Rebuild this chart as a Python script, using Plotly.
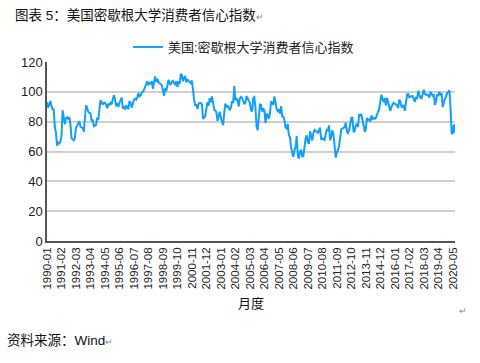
import plotly.graph_objects as go

start_year = 1990
values = [
    93.0, 89.5, 91.3, 93.9, 90.6, 88.3, 88.2, 76.4, 72.8, 63.9, 66.0, 65.5,
    66.8, 70.4, 87.7, 81.8, 78.3, 82.1, 82.9, 82.0, 83.0, 78.3, 69.1, 68.2,
    67.5, 68.8, 76.0, 77.2, 79.2, 80.4, 76.6, 76.1, 75.6, 73.3, 85.3, 91.0,
    89.3, 86.6, 85.9, 85.6, 80.3, 81.5, 77.0, 77.3, 77.9, 82.7, 81.2, 88.2,
    94.3, 93.2, 91.5, 92.6, 92.8, 91.2, 89.0, 91.7, 91.5, 92.7, 91.6, 95.1,
    97.6, 95.1, 90.3, 92.5, 89.8, 92.7, 94.4, 96.2, 88.9, 90.2, 88.2, 91.0,
    89.3, 88.5, 93.7, 92.7, 89.4, 92.4, 94.7, 95.3, 94.7, 96.5, 99.2, 96.9,
    97.4, 99.7, 100.0, 101.4, 103.2, 104.5, 107.1, 104.4, 106.0, 105.6, 107.2, 102.1,
    106.6, 110.4, 106.5, 108.7, 106.5, 105.6, 105.2, 104.4, 100.9, 97.4, 102.7, 100.5,
    103.9, 108.1, 105.7, 104.6, 106.8, 107.3, 106.0, 104.5, 107.2, 103.2, 107.2, 105.4,
    112.0, 111.3, 107.1, 109.2, 110.7, 106.4, 108.3, 107.3, 106.8, 105.8, 107.6, 98.4,
    94.7, 90.6, 91.5, 88.4, 92.0, 92.6, 92.4, 91.5, 81.8, 82.7, 83.9, 88.8,
    93.0, 90.7, 95.7, 93.0, 96.9, 92.4, 88.1, 87.6, 86.1, 80.6, 84.2, 86.7,
    82.4, 79.9, 77.6, 86.0, 92.1, 89.7, 90.9, 89.3, 87.7, 89.6, 93.7, 92.6,
    103.8, 94.4, 95.8, 94.2, 90.2, 95.6, 96.7, 95.9, 94.2, 91.7, 92.8, 97.1,
    95.5, 94.1, 92.6, 87.7, 86.9, 96.0, 96.5, 89.1, 76.9, 74.2, 81.6, 91.5,
    91.2, 86.7, 88.9, 87.4, 79.1, 84.9, 84.7, 82.0, 85.4, 93.6, 92.1, 91.7,
    96.9, 91.3, 88.4, 87.1, 88.3, 85.3, 90.4, 83.4, 83.4, 80.9, 76.1, 75.5,
    78.4, 70.8, 69.5, 62.6, 59.8, 56.4, 61.2, 63.0, 70.3, 57.6, 55.3, 60.1,
    61.2, 56.3, 57.3, 65.1, 68.7, 70.8, 66.0, 65.7, 73.5, 70.6, 67.4, 72.5,
    74.4, 73.6, 73.6, 72.2, 73.6, 76.0, 67.8, 68.9, 68.2, 67.7, 71.6, 74.5,
    74.2, 77.5, 67.5, 69.8, 74.3, 71.5, 63.7, 55.8, 59.5, 60.8, 63.7, 69.9,
    75.0, 75.3, 76.2, 76.4, 79.3, 73.2, 72.3, 74.3, 78.3, 82.6, 82.7, 72.9,
    73.8, 77.6, 78.6, 76.4, 84.5, 84.1, 85.1, 82.1, 77.5, 73.2, 75.1, 82.5,
    81.2, 81.6, 80.0, 84.1, 81.9, 82.5, 81.8, 82.5, 84.6, 86.9, 88.8, 93.6,
    98.1, 95.4, 93.0, 95.9, 90.7, 96.1, 93.1, 91.9, 87.2, 90.0, 91.3, 92.6,
    92.0, 91.7, 91.0, 89.0, 94.7, 93.5, 90.0, 89.8, 91.2, 87.2, 93.8, 98.2,
    98.5, 96.3, 96.9, 97.0, 97.1, 95.1, 93.4, 96.8, 95.1, 100.7, 98.5, 95.9,
    95.7, 99.7, 101.4, 98.8, 98.0, 98.2, 97.9, 96.2, 100.1, 98.6, 97.5, 98.3,
    91.2, 93.8, 98.4, 97.2, 100.0, 98.2, 98.4, 89.8, 93.2, 95.5, 96.8, 99.3,
    99.8, 101.0, 89.1, 71.8, 72.3, 78.1, 72.5,
]
months = [f"{start_year + i // 12}-{i % 12 + 1:02d}" for i in range(len(values))]
tick_labels = months[::13]

series_name = "美国:密歇根大学消费者信心指数"
title_text = "图表 5：美国密歇根大学消费者信心指数<span style='font-size:9px;color:#888'>↵</span>"
source_text = "资料来源：Wind<span style='font-size:9px;color:#888'>↵</span>"

cjk = "Liberation Sans, Noto Sans CJK SC, sans-serif"

fig = go.Figure()
fig.add_trace(go.Scatter(
    x=months, y=values, mode="lines", name=series_name,
    line=dict(color="#139FF7", width=2),
))

fig.update_layout(
    width=480, height=363,
    margin=dict(l=47, r=25, t=62, b=122, autoexpand=False),
    paper_bgcolor="white", plot_bgcolor="white",
    font=dict(family=cjk, size=12, color="#222"),
    showlegend=True,
    legend=dict(orientation="h", x=(128 - 47) / 408, xanchor="left", y=1.0 + 15/179, yanchor="middle",
                font=dict(size=13, color="#222"), bgcolor="rgba(0,0,0,0)"),
    xaxis=dict(
        type="category", range=[0, len(values) - 1],
        tickmode="array", tickvals=tick_labels, ticktext=tick_labels,
        tickangle=-90, tickfont=dict(size=11.5, color="#222"),
        showgrid=False, showline=True, linecolor="#555", linewidth=1.5,
        ticks="", zeroline=False, automargin=False,
    ),
    yaxis=dict(
        range=[0, 120], tickvals=[0, 20, 40, 60, 80, 100, 120],
        tickfont=dict(size=13, color="#222"),
        showgrid=True, gridcolor="#CFCFCF", gridwidth=1.5,
        showline=True, linecolor="#555", linewidth=1.5, zeroline=False, ticks="",
        automargin=False,
    ),
    annotations=[
        dict(text=title_text, xref="paper", yref="paper", x=-34/408, y=1 + 47/179,
             xanchor="left", yanchor="middle", showarrow=False,
             font=dict(size=13.5, color="#111")),
        dict(text="月度", xref="paper", yref="paper", x=0.5, y=-62/179,
             xanchor="center", yanchor="middle", showarrow=False,
             font=dict(size=13, color="#111")),
        dict(text=source_text, xref="paper", yref="paper", x=-42/408, y=-99/179,
             xanchor="left", yanchor="middle", showarrow=False,
             font=dict(size=13.5, color="#111")),
        dict(text="↵", xref="paper", yref="paper", x=1.02, y=-70/179,
             xanchor="center", yanchor="middle", showarrow=False,
             font=dict(size=9, color="#888")),
    ],
)

fig.write_html("out.html", config={"displayModeBar": False},
               post_script="document.body.style.margin='0';document.body.style.overflow='hidden';")
